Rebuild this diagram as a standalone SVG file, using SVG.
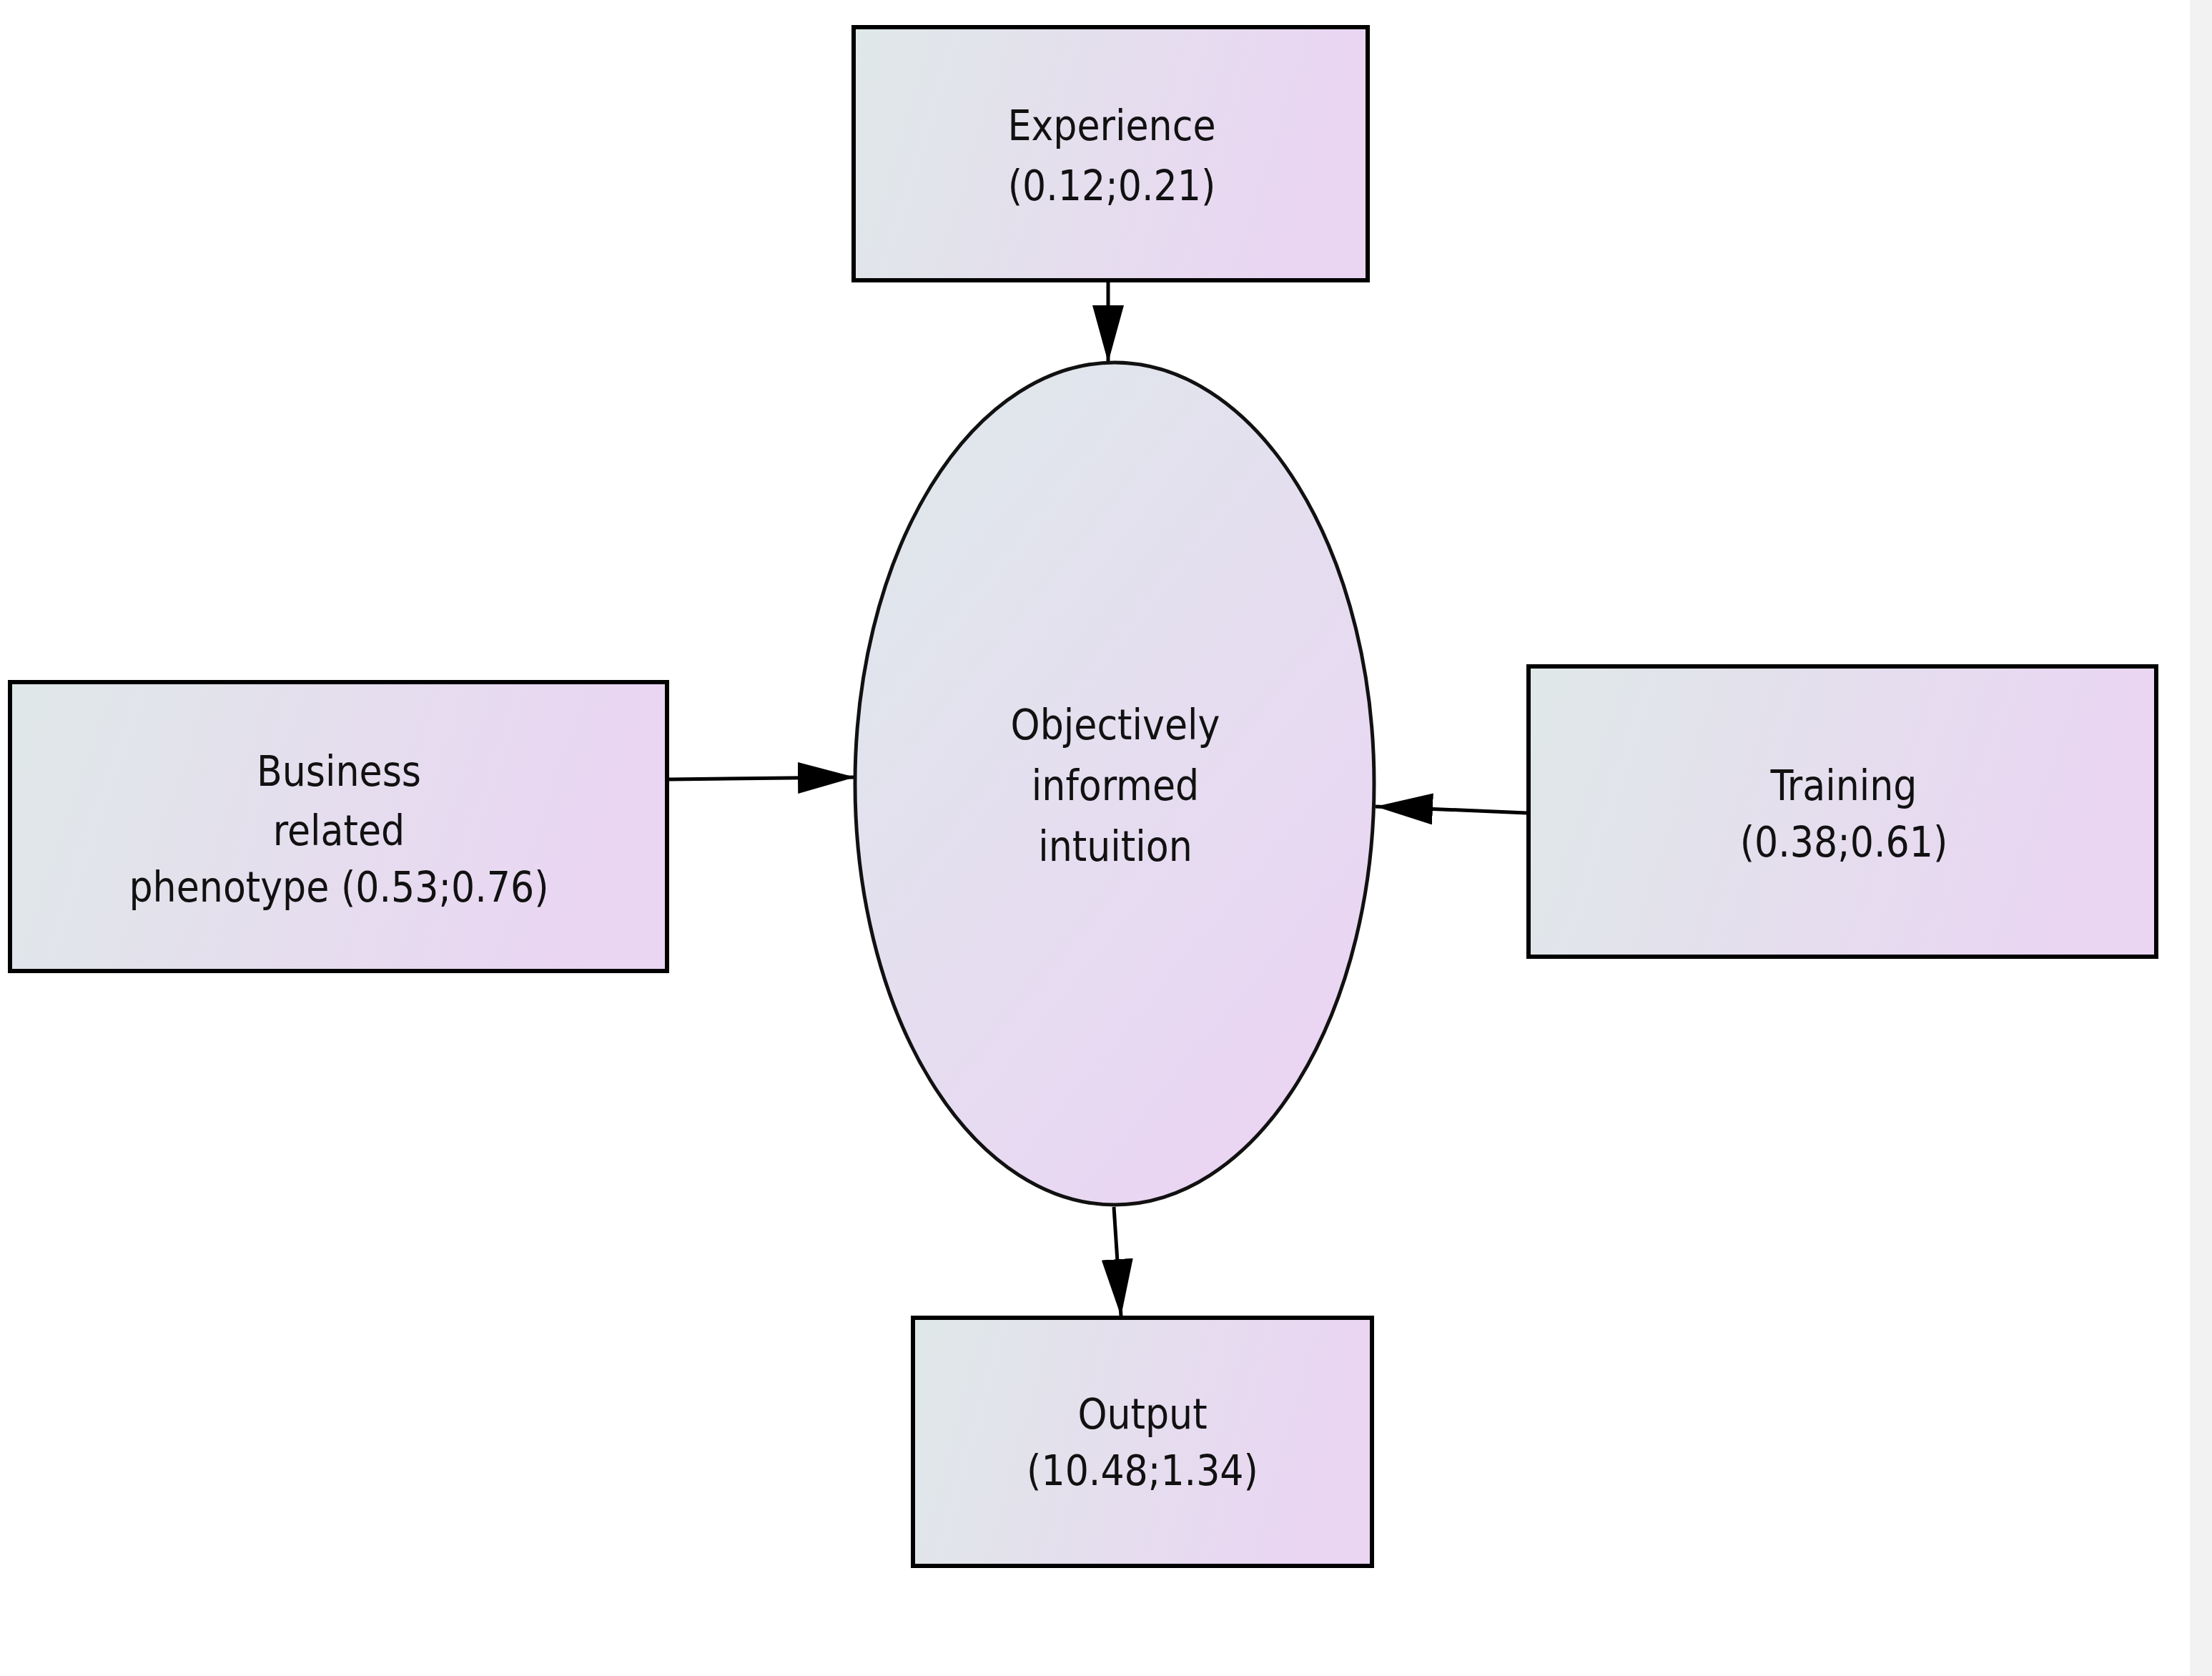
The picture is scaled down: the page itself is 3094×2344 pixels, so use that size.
<svg xmlns="http://www.w3.org/2000/svg" width="3094" height="2344" viewBox="0 0 3094 2344">
<style>
.box{fill:url(#g);stroke:#000;stroke-width:6}
.ell{fill:url(#g2);stroke:#111;stroke-width:5}
text{font-family:"DejaVu Sans Condensed","Liberation Sans",sans-serif;font-size:58px;fill:#111;text-anchor:middle}
.edge{stroke:#000;stroke-width:5;fill:none;marker-end:url(#arr)}
</style>
<defs>
<linearGradient id="g" x1="0" y1="0" x2="1" y2="0.15"><stop offset="0" stop-color="#dfe8e8"/><stop offset="1" stop-color="#ead5f3"/></linearGradient>
<linearGradient id="g2" x1="0.2" y1="0.1" x2="0.8" y2="0.9"><stop offset="0" stop-color="#e0e6ec"/><stop offset="1" stop-color="#ead5f3"/></linearGradient>
<marker id="arr" markerUnits="userSpaceOnUse" markerWidth="80" markerHeight="44" refX="80" refY="22" orient="auto"><path d="M0,0 L80,22 L0,44 Z" fill="#000"/></marker>
</defs>
<rect x="3063" y="0" width="31" height="2344" fill="#f2f2f2"/>
<g id="connectors">
<line class="edge" x1="1550" y1="395" x2="1550" y2="507"/>
<line class="edge" x1="936" y1="1090" x2="1196" y2="1087"/>
<line class="edge" x1="2136" y1="1137" x2="1924" y2="1128"/>
<line class="edge" x1="1558" y1="1688" x2="1568" y2="1841"/>
</g>
<g id="experience"><rect class="box" x="1194" y="38" width="719" height="354"/><text x="1555" y="196">Experience</text><text x="1555" y="280">(0.12;0.21)</text></g>
<g id="intuition"><ellipse class="ell" cx="1559" cy="1096" rx="363" ry="589"/><text x="1560" y="1034">Objectively</text><text x="1560" y="1119">informed</text><text x="1560" y="1204">intuition</text></g>
<g id="business"><rect class="box" x="14" y="954" width="919" height="404"/><text x="474" y="1099">Business</text><text x="474" y="1182">related</text><text x="474" y="1261">phenotype (0.53;0.76)</text></g>
<g id="training"><rect class="box" x="2138" y="932" width="878" height="406"/><text x="2579" y="1119">Training</text><text x="2579" y="1198">(0.38;0.61)</text></g>
<g id="output"><rect class="box" x="1277" y="1843" width="642" height="347"/><text x="1598" y="1998">Output</text><text x="1598" y="2077">(10.48;1.34)</text></g>
</svg>
